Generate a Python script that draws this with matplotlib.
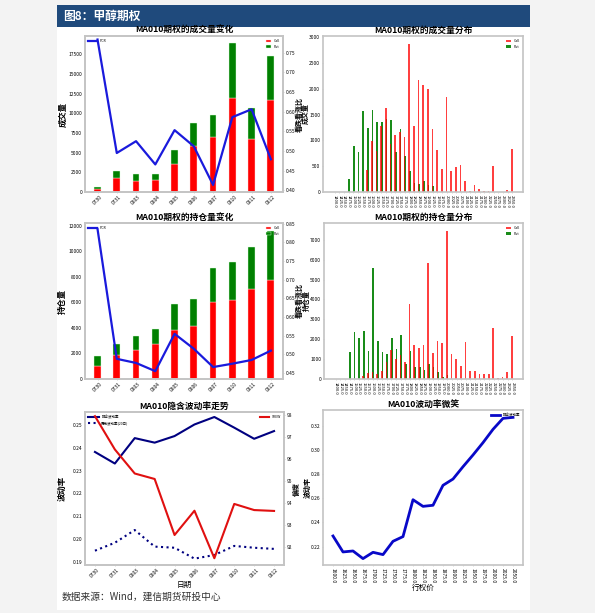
import matplotlib
import numpy as np

matplotlib.use("Agg")
import matplotlib.pyplot as plt
from matplotlib.patches import Rectangle

plt.rcParams["font.family"] = ["Noto Sans CJK SC", "DejaVu Sans"]
plt.rcParams["axes.unicode_minus"] = False

# ---- data ----
DATES = ["0730", "0731", "0803", "0804", "0805", "0806", "0807", "0810", "0811", "0812"]

vol_call = [350, 1800, 1450, 1500, 3500, 5800, 7000, 11900, 6700, 11650]
vol_put = [300, 900, 800, 750, 1850, 3000, 2800, 6950, 4000, 5550]
vol_pcr = [0.783, 0.495, 0.525, 0.466, 0.553, 0.512, 0.414, 0.586, 0.606, 0.479]

oi_call = [1000, 1850, 2300, 2720, 3840, 4150, 6000, 6200, 7000, 7750]
oi_put = [800, 900, 1070, 1200, 2040, 2100, 2700, 2950, 3300, 3800]
oi_pcr = [0.836, 0.488, 0.477, 0.455, 0.555, 0.515, 0.466, 0.475, 0.485, 0.510]

STRIKES = [1400, 1425, 1450, 1475, 1500, 1525, 1550, 1575, 1600, 1625,
           1650, 1675, 1700, 1725, 1750, 1775, 1800, 1825, 1850, 1875,
           1900, 1925, 1950, 1975, 2000, 2025, 2050, 2075, 2100, 2125,
           2150, 2175, 2200, 2225, 2250, 2275, 2300, 2325, 2350]

dist_vol_call = [0, 0, 0, 0, 0, 0, 0, 433, 990, 790,
                 1270, 1620, 930, 1100, 1160, 1070, 2870, 1270, 2160, 2070,
                 2000, 1220, 820, 440, 1830, 400, 480, 530, 220, 10,
                 130, 60, 10, 20, 500, 0, 0, 30, 840]
dist_vol_put = [0, 0, 0, 250, 890, 770, 1560, 1230, 1580, 1350,
                1350, 1410, 1390, 780, 1215, 695, 400, 175, 160, 205,
                140, 115, 5, 0, 0, 0, 0, 0, 0, 0,
                0, 0, 0, 0, 0, 0, 0, 0, 0]

dist_oi_call = [0, 0, 0, 0, 0, 0, 150, 290, 330, 240,
                380, 860, 1450, 990, 1200, 870, 3750, 1720, 1560, 1700,
                5850, 1300, 1920, 1790, 7420, 1270, 1000, 640, 1870, 380,
                380, 230, 230, 230, 2580, 70, 90, 330, 2180]
dist_oi_put = [0, 0, 0, 1340, 2345, 2045, 2395, 1410, 5595, 1925,
               1340, 1255, 2060, 1510, 2210, 760, 1425, 600, 600, 470,
               770, 620, 350, 100, 180, 0, 0, 0, 0, 0,
               0, 0, 0, 0, 0, 0, 0, 0, 0]

iv_atm = [0.2383, 0.2332, 0.2444, 0.2424, 0.2453, 0.2504, 0.2537, 0.2490, 0.2441, 0.2475]
hv_20 = [0.1948, 0.1983, 0.2039, 0.1966, 0.1961, 0.1913, 0.1929, 0.1969, 0.1961, 0.1956]
skew = [97.96, 96.44, 95.34, 95.09, 92.53, 93.64, 91.47, 93.95, 93.67, 93.63]

SMILE_STRIKES = [1600, 1625, 1650, 1675, 1700, 1725, 1750, 1775, 1800, 1825,
                 1850, 1875, 1900, 1925, 1950, 1975, 2000, 2025, 2050]
smile_iv = [0.2288, 0.2156, 0.2164, 0.2101, 0.2153, 0.2134, 0.2244, 0.2283, 0.2588, 0.2533,
            0.2542, 0.2707, 0.2759, 0.2861, 0.2958, 0.3060, 0.3170, 0.3261, 0.3269]

W, H = 595, 613
RED = "#ff0000"
GREEN = "#008000"
SPINE = "#c4c4c4"
TICK_FS = 3.5
TITLE_FS = 6.3
LABEL_FS = 5


def rect(l, t, r, b):
    return [l / W, 1 - b / H, (r - l) / W, (b - t) / H]


def style_axes(ax):
    for s in ax.spines.values():
        s.set_color(SPINE)
        s.set_linewidth(1.2)
    ax.tick_params(labelsize=TICK_FS, length=1, width=0.5, color=SPINE, pad=1)


def stacked_panel(ax, call, put, pcr, title, ylabel, yticks, ylim, rlim, rticks):
    x = np.arange(len(DATES))
    ax.bar(x, call, width=0.35, color=RED, edgecolor="#ffdddd", linewidth=0.3, label="Call")
    ax.bar(x, put, width=0.35, bottom=call, color=GREEN, edgecolor="#ddffdd", linewidth=0.3, label="Put")
    ax.set_xlim(-0.65, 9.63)
    ax.set_ylim(*ylim)
    ax.set_yticks(yticks)
    ax.set_xticks(x)
    ax.set_xticklabels(DATES, rotation=45)
    ax.set_title(title, fontsize=TITLE_FS, fontweight="bold", pad=2)
    ax.set_ylabel(ylabel, fontsize=6, fontweight="bold")
    ax.yaxis.set_label_coords(-0.09, 0.5)
    style_axes(ax)
    ax.legend(loc="upper right", fontsize=2.5, frameon=False, handlelength=1.5, handleheight=0.8)

    ax2 = ax.twinx()
    ax2.plot(x, pcr, color="#1a1adc", linewidth=1.6, label="PCR")
    ax2.set_ylim(*rlim)
    ax2.set_yticks(rticks)
    ax2.set_yticklabels([f"{t:.2f}" for t in rticks])
    ax2.set_ylabel("看跌看涨比", fontsize=LABEL_FS, fontweight="bold")
    ax2.yaxis.set_label_coords(1.061, 0.5)
    style_axes(ax2)
    ax2.legend(loc="upper left", fontsize=2.5, frameon=False, handlelength=2.5)


def dist_panel(ax, call, put, title, ylabel, yticks, ylim):
    x = np.arange(len(STRIKES))
    ax.bar(x + 0.08, put, width=0.36, color=GREEN, alpha=0.9, label="Put")
    ax.bar(x - 0.08, call, width=0.36, color=RED, alpha=0.75, label="Call")
    ax.set_xlim(-2.5, 40.3)
    ax.set_ylim(*ylim)
    ax.set_yticks(yticks)
    ax.set_xticks(x)
    ax.set_xticklabels([f"{s:.1f}" for s in STRIKES], rotation=270, fontsize=3)
    ax.set_title(title, fontsize=TITLE_FS, fontweight="bold", pad=2)
    ax.set_ylabel(ylabel, fontsize=LABEL_FS, fontweight="bold")
    ax.yaxis.set_label_coords(-0.069, 0.5)
    style_axes(ax)
    ax.tick_params(axis="x", labelsize=3)
    h, l = ax.get_legend_handles_labels()
    ax.legend(h[::-1], l[::-1], loc="upper right", fontsize=2.5, frameon=False,
              handlelength=1.5, handleheight=0.8)


fig = plt.figure(figsize=(W / 100, H / 100), dpi=100, facecolor="#f3f3f3")

# white page and dark blue header band
fig.add_artist(Rectangle((57 / W, 1 - 610 / H), (530 - 57) / W, (610 - 27) / H,
                         transform=fig.transFigure, facecolor="white", edgecolor="none", zorder=-10))
fig.add_artist(Rectangle((57 / W, 1 - 27 / H), (530 - 57) / W, 22 / H,
                         transform=fig.transFigure, facecolor="#1f4a7c", edgecolor="none", zorder=-5))
fig.text(63 / W, 1 - 16 / H, "图8：甲醇期权", color="white", fontsize=8.5, fontweight="bold",
         va="center", ha="left")

ax1 = fig.add_axes(rect(85, 36, 283, 192))
stacked_panel(ax1, vol_call, vol_put, vol_pcr, "MA010期权的成交量变化", "成交量",
              np.arange(0, 17501, 2500), (0, 19800), (0.396, 0.792), [0.40, 0.45, 0.50, 0.55, 0.60, 0.65, 0.70, 0.75])

ax2 = fig.add_axes(rect(323, 36, 523, 192))
dist_panel(ax2, dist_vol_call, dist_vol_put, "MA010期权的成交量分布", "成交量",
           np.arange(0, 3001, 500), (0, 3020))

ax3 = fig.add_axes(rect(85, 223, 283, 379))
stacked_panel(ax3, oi_call, oi_put, oi_pcr, "MA010期权的持仓量变化", "持仓量",
              np.arange(0, 12001, 2000), (0, 12200), (0.434, 0.852), [0.45, 0.50, 0.55, 0.60, 0.65, 0.70, 0.75, 0.80, 0.85])

ax4 = fig.add_axes(rect(324, 223, 523, 379))
dist_panel(ax4, dist_oi_call, dist_oi_put, "MA010期权的持仓量分布", "持仓量",
           np.arange(0, 7001, 1000), (0, 7840))

# implied volatility trend
ax5 = fig.add_axes(rect(85, 412, 284, 565))
x = np.arange(len(DATES))
ax5.plot(x, iv_atm, color="#000080", linewidth=1.5, label="隐含波动率")
ax5.plot(x, hv_20, color="#000080", linewidth=1.5, linestyle=":", label="历史波动率(20日)")
ax5.set_xlim(-0.5, 9.5)
ax5.set_ylim(0.1885, 0.2559)
ax5.set_yticks([0.19, 0.20, 0.21, 0.22, 0.23, 0.24, 0.25])
ax5.set_yticklabels([f"{t:.2f}" for t in [0.19, 0.20, 0.21, 0.22, 0.23, 0.24, 0.25]])
ax5.set_xticks(x)
ax5.set_xticklabels(DATES, rotation=45)
ax5.set_title("MA010隐含波动率走势", fontsize=TITLE_FS, fontweight="bold", pad=2)
ax5.set_ylabel("波动率", fontsize=6, fontweight="bold")
ax5.yaxis.set_label_coords(-0.09, 0.5)
ax5.set_xlabel("日期", fontsize=5.5, labelpad=1)
style_axes(ax5)
ax5.legend(loc="upper left", fontsize=2.5, frameon=False, handlelength=3)
ax5b = ax5.twinx()
ax5b.plot(x, skew, color="#e01010", linewidth=1.5, label="SKEW")
ax5b.set_ylim(91.16, 98.15)
ax5b.set_yticks([92, 93, 94, 95, 96, 97, 98])
ax5b.set_ylabel("偏度", fontsize=LABEL_FS, fontweight="bold")
ax5b.yaxis.set_label_coords(1.045, 0.5)
style_axes(ax5b)
ax5b.legend(loc="upper right", fontsize=2.5, frameon=False, handlelength=2.5)

# volatility smile
ax6 = fig.add_axes(rect(323, 410, 523, 565))
xs = np.arange(len(SMILE_STRIKES))
ax6.plot(xs, smile_iv, color="#0808c8", linewidth=2, label="隐含波动率")
ax6.set_xlim(-1, 19)
ax6.set_ylim(0.2048, 0.333)
ax6.set_yticks([0.22, 0.24, 0.26, 0.28, 0.30, 0.32])
ax6.set_yticklabels([f"{t:.2f}" for t in [0.22, 0.24, 0.26, 0.28, 0.30, 0.32]])
ax6.set_xticks(xs)
ax6.set_xticklabels([f"{s:.1f}" for s in SMILE_STRIKES], rotation=270)
ax6.set_title("MA010波动率微笑", fontsize=TITLE_FS, fontweight="bold", pad=2)
ax6.set_ylabel("波动率", fontsize=LABEL_FS, fontweight="bold")
ax6.yaxis.set_label_coords(-0.0625, 0.5)
ax6.set_xlabel("行权价", fontsize=5.5, labelpad=1)
style_axes(ax6)
ax6.tick_params(axis="x", labelsize=3.5)
ax6.legend(loc="upper right", fontsize=2.5, frameon=False, handlelength=2.5)

fig.text(62 / W, 1 - 597 / H, "数据来源：Wind，建信期货研投中心", fontsize=7, style="italic",
         color="#333333", va="center", ha="left")

fig.savefig("out.png", dpi=100, facecolor=fig.get_facecolor())
